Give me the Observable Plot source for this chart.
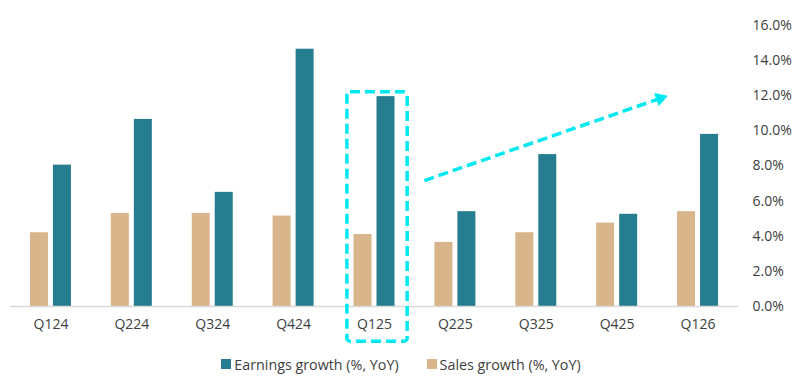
<!DOCTYPE html>
<html>
<head>
<meta charset="utf-8">
<script src="https://cdn.jsdelivr.net/npm/d3@7"></script>
<script src="https://cdn.jsdelivr.net/npm/@observablehq/plot@0.6"></script>
<style>
  html, body { margin: 0; padding: 0; background: #fff; }
  body { width: 802px; height: 385px; overflow: hidden; font-family: "Open Sans", sans-serif; }
  #legend { display: flex; justify-content: center; align-items: center; gap: 28px; height: 38px; margin-top: 0; font-size: 14.3px; color: #404040; }
  .item { display: flex; align-items: center; }
  .sw { width: 10px; height: 10px; margin-right: 3px; display: inline-block; }
</style>
</head>
<body>
<div id="chart"></div>
<div id="legend"></div>
<script>
const quarters = ["Q124", "Q224", "Q324", "Q424", "Q125", "Q225", "Q325", "Q425", "Q126"];
const earnings = [8.05, 10.65, 6.5, 14.65, 11.95, 5.4, 8.65, 5.25, 9.8];
const sales = [4.2, 5.3, 5.3, 5.15, 4.1, 3.65, 4.2, 4.75, 5.4];
const yTicks = [0, 2, 4, 6, 8, 10, 12, 14, 16];
const seriesNames = ["Earnings growth (%, YoY)", "Sales growth (%, YoY)"];
const seriesColors = ["#277D90", "#D8B58A"];
// annotation (data units: category index, percent)
const highlightBox = [{x1: 3.665, x2: 4.41, y1: -2.0, y2: 12.2}];
const trendLine = [{x1: 4.617, y1: 7.17, x2: 7.532, y2: 11.85}];
const trendHead = [{x: 7.532, y: 11.85}];

const cyan = "#00E8F0";
const rows = quarters.map((q, i) => ({i, q, earnings: earnings[i], sales: sales[i]}));

const chart = Plot.plot({
  width: 802,
  height: 345,
  marginLeft: 10,
  marginRight: 64,
  marginTop: 25,
  marginBottom: 39,
  style: {fontFamily: "Open Sans, sans-serif", fontSize: "14px", color: "#404040", background: "#fff"},
  x: {domain: [-0.5, quarters.length - 0.5], ticks: quarters.map((q, i) => i), tickFormat: i => quarters[i], tickSize: 0, tickPadding: 13, label: null},
  y: {domain: [0, 16], axis: "right", ticks: yTicks, tickFormat: d => d.toFixed(1) + "%", tickSize: 0, tickPadding: 14, label: null},
  marks: [
    Plot.rectY(rows, {x1: d => d.i - 0.5, x2: d => d.i + 0.5, y: "sales", fill: seriesColors[1], insetLeft: 19.95, insetRight: 42.95}),
    Plot.rectY(rows, {x1: d => d.i - 0.5, x2: d => d.i + 0.5, y: "earnings", fill: seriesColors[0], insetLeft: 42.95, insetRight: 19.95}),
    Plot.ruleY([0], {stroke: "#d9d9d9", strokeWidth: 1.5}),
    Plot.rect(highlightBox, {x1: "x1", x2: "x2", y1: "y1", y2: "y2", fill: "none", stroke: cyan, strokeWidth: 3.5, strokeDasharray: "10,5", rx: 3}),
    Plot.link(trendLine, {x1: "x1", y1: "y1", x2: "x2", y2: "y2", stroke: cyan, strokeWidth: 3.5, strokeDasharray: "10,5"}),
    Plot.dot(trendHead, {x: "x", y: "y", symbol: "triangle", r: 5.2, fill: cyan, stroke: "none", rotate: 70.8})
  ]
});
document.getElementById("chart").appendChild(chart);

const legend = document.getElementById("legend");
seriesNames.forEach((name, k) => {
  const it = document.createElement("div");
  it.className = "item";
  const sw = document.createElement("span");
  sw.className = "sw";
  sw.style.background = seriesColors[k];
  it.appendChild(sw);
  it.appendChild(document.createTextNode(name));
  legend.appendChild(it);
});
</script>
</body>
</html>
